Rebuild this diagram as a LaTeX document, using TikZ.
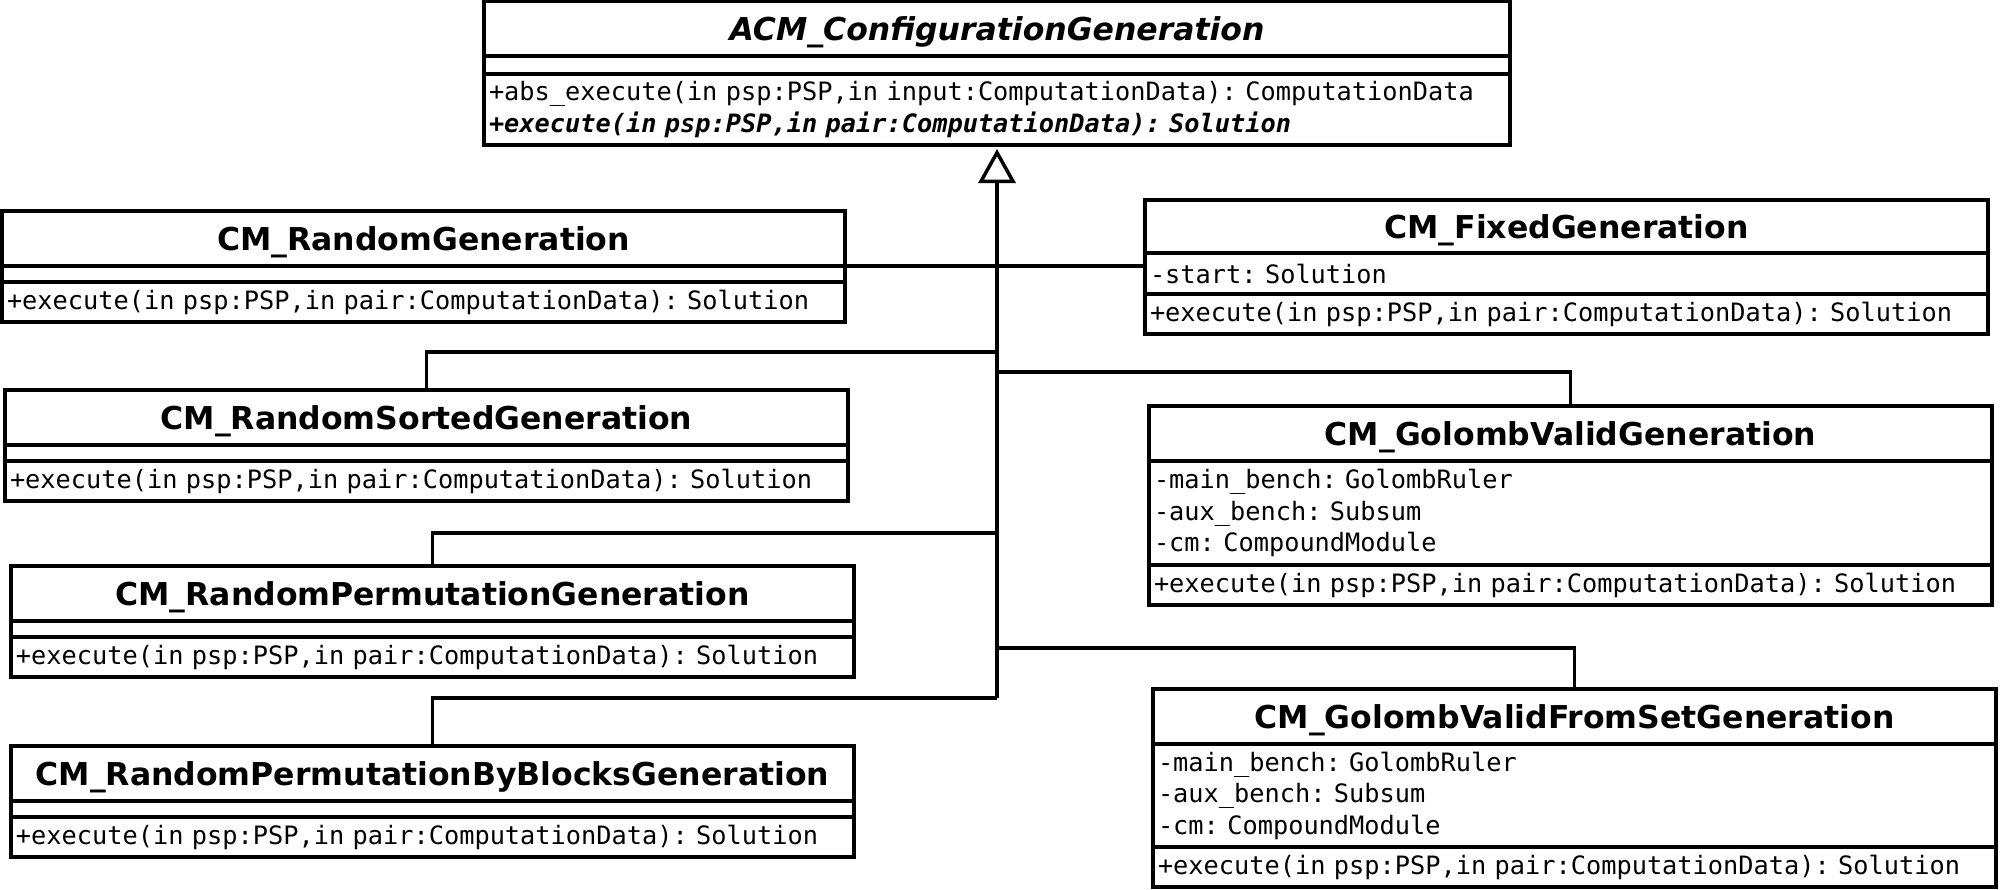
\documentclass[tikz,border=0pt]{standalone}
\usepackage{fontspec}
\setmainfont{DejaVu Sans}[BoldFont={DejaVu Sans Bold},ItalicFont={DejaVu Sans Oblique},BoldItalicFont={DejaVu Sans Bold Oblique}]
\setmonofont{DejaVu Sans Mono}[BoldFont={DejaVu Sans Mono Bold},ItalicFont={DejaVu Sans Mono Oblique},BoldItalicFont={DejaVu Sans Mono Bold Oblique}]
\usetikzlibrary{positioning,
				arrows.meta}
\frenchspacing
\tikzset{
	classbox/.style={draw, line width=3.5pt, outer sep=0pt, inner sep=0pt},
	classname/.style={classbox, anchor=north west, minimum width=843pt, minimum height=55pt, text depth=0pt,
		font=\bfseries\fontsize{31.5}{36}\selectfont},
	members/.style={classbox, below=0pt of #1, text width=833pt, inner xsep=5pt,
		minimum height=40pt, font=\ttfamily\fontsize{25.3}{31.5}\selectfont},
	conn/.style={line width=3.5pt}
}
\begin{document}
\begin{tikzpicture}[x=1pt, y=-1pt]
		\useasboundingbox (0,0) rectangle (2000,889);

		% abstract parent
		\node[classname, minimum width=1026pt, font=\bfseries\itshape\fontsize{31.5}{36}\selectfont] (acmT) at (484,1) {ACM\_ConfigurationGeneration};
		\node[members=acmT, text width=1016pt, minimum height=18pt] (acmA) {};
		\node[members=acmA, text width=1016pt, minimum height=71pt] (acmM) {+abs\_execute(in psp:PSP,in input:ComputationData): ComputationData\\
			\textbf{\textit{+execute(in psp:PSP,in pair:ComputationData): Solution}}};

		% left column
		\node[classname] (rgT) at (2,211) {CM\_RandomGeneration};
		\node[members=rgT, minimum height=16pt] (rgA) {};
		\node[members=rgA] (rgM) {+execute(in psp:PSP,in pair:ComputationData): Solution};

		\node[classname] (rsgT) at (5,390) {CM\_RandomSortedGeneration};
		\node[members=rsgT, minimum height=16pt] (rsgA) {};
		\node[members=rsgA] (rsgM) {+execute(in psp:PSP,in pair:ComputationData): Solution};

		\node[classname] (rpgT) at (11,566) {CM\_RandomPermutationGeneration};
		\node[members=rpgT, minimum height=16pt] (rpgA) {};
		\node[members=rpgA] (rpgM) {+execute(in psp:PSP,in pair:ComputationData): Solution};

		\node[classname] (rpbT) at (11,746) {CM\_RandomPermutationByBlocksGeneration};
		\node[members=rpbT, minimum height=16pt] (rpbA) {};
		\node[members=rpbA] (rpbM) {+execute(in psp:PSP,in pair:ComputationData): Solution};

		% right column
		\node[classname, minimum height=53pt] (fgT) at (1145,200) {CM\_FixedGeneration};
		\node[members=fgT, minimum height=41pt] (fgA) {-start: Solution};
		\node[members=fgA] (fgM) {+execute(in psp:PSP,in pair:ComputationData): Solution};

		\node[classname] (gvgT) at (1149,406) {CM\_GolombValidGeneration};
		\node[members=gvgT, minimum height=104pt] (gvgA) {-main\_bench: GolombRuler\\-aux\_bench: Subsum\\-cm: CompoundModule};
		\node[members=gvgA] (gvgM) {+execute(in psp:PSP,in pair:ComputationData): Solution};

		\node[classname] (gvfT) at (1153,689) {CM\_GolombValidFromSetGeneration};
		\node[members=gvfT, minimum height=103pt] (gvfA) {-main\_bench: GolombRuler\\-aux\_bench: Subsum\\-cm: CompoundModule};
		\node[members=gvfA] (gvfM) {+execute(in psp:PSP,in pair:ComputationData): Solution};

		% generalisation tree
		\coordinate (trunk) at (997,698);
		\coordinate (jRS) at (997,352);
		\coordinate (jGV) at (997,372);
		\coordinate (jRP) at (997,533);
		\coordinate (jGF) at (997,648);

		\draw[conn, -{Triangle[open, length=34pt, width=37pt, line width=3.5pt]}, shorten >=4pt] (trunk) -- (acmM.south);
		\draw[conn] (rgT.south east) -- (rgT.south east -| fgA.west);
		\draw[conn] (rsgT.north) |- (jRS);
		\draw[conn] (gvgT.north) |- (jGV);
		\draw[conn] (rpgT.north) |- (jRP);
		\draw[conn] (gvfT.north) |- (jGF);
		\draw[conn] (rpbT.north) |- (trunk);
	\end{tikzpicture}
\end{document}
